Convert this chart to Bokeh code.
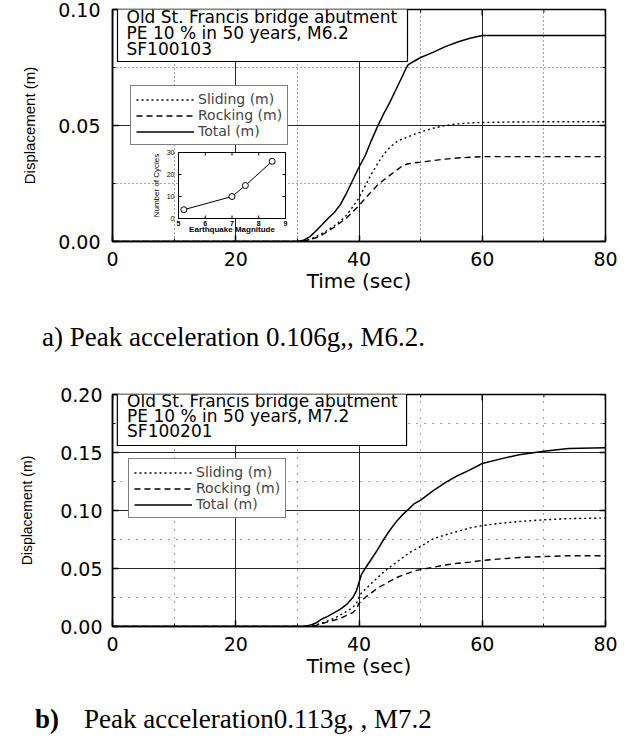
import math
from bokeh.plotting import figure
from bokeh.models import (Range1d, FixedTicker, PrintfTickFormatter, Legend,
                          LegendItem, BoxAnnotation, Label, Div)
from bokeh.layouts import column
from bokeh.embed import file_html
from bokeh.resources import INLINE
from bokeh.core.properties import value

# ---------------- data ----------------
x_major = [0, 20, 40, 60, 80]
x_minor = [10, 30, 50, 70]
y1_major = [0.0, 0.05, 0.10]
y1_minor = [0.025, 0.075]
y2_major = [0.0, 0.05, 0.10, 0.15, 0.20]
y2_minor = [0.025, 0.075, 0.125, 0.175]

# a) M6.2
t1 = [0, 30, 31, 32, 33, 34, 35, 36, 37, 38, 39, 40, 41, 42, 43, 44, 45, 46, 47, 47.7,
      48, 49, 50, 52, 54, 56, 58, 60, 65, 70, 80]
total1 = [0, 0, 0.0006, 0.002, 0.0045, 0.0072, 0.0100, 0.0125, 0.0160, 0.0210, 0.0265, 0.0320,
          0.0370, 0.0435, 0.0495, 0.0550, 0.0600, 0.0655, 0.0710, 0.0750,
          0.0762, 0.0778, 0.0793, 0.0815, 0.0840, 0.0860, 0.0876, 0.0888, 0.0888, 0.0888, 0.0888]
sliding1 = [0, 0, 0.0002, 0.0010, 0.0020, 0.0035, 0.0050, 0.0068, 0.0088, 0.0115, 0.0150, 0.0188,
            0.0240, 0.0290, 0.0335, 0.0375, 0.0405, 0.0428, 0.0442, 0.0448,
            0.0452, 0.0462, 0.0472, 0.0488, 0.0500, 0.0507, 0.0511, 0.0513, 0.0515, 0.0516, 0.0516]
rocking1 = [0, 0, 0.0002, 0.0008, 0.0016, 0.0028, 0.0045, 0.0062, 0.0082, 0.0102, 0.0128, 0.0155,
            0.0185, 0.0215, 0.0243, 0.0265, 0.0285, 0.0305, 0.0325, 0.0333,
            0.0335, 0.0339, 0.0342, 0.0349, 0.0355, 0.0360, 0.0363, 0.0366, 0.0366, 0.0366, 0.0366]

# b) M7.2
t2 = [0, 31, 32, 33, 34, 35, 36, 37, 38, 39, 39.6, 40, 40.4, 41, 42, 43, 44, 45, 46, 47, 48, 49,
      50, 52, 54, 56, 58, 60, 63, 66, 70, 74, 80]
total2 = [0, 0, 0.001, 0.003, 0.0065, 0.009, 0.012, 0.015, 0.019, 0.025, 0.031, 0.038, 0.045,
          0.050, 0.058, 0.066, 0.075, 0.083, 0.090, 0.096, 0.101, 0.106, 0.109, 0.117, 0.124,
          0.130, 0.135, 0.1405, 0.1445, 0.148, 0.151, 0.1535, 0.154]
sliding2 = [0, 0, 0.0005, 0.0015, 0.003, 0.005, 0.007, 0.010, 0.013, 0.0165, 0.020, 0.0255,
            0.029, 0.032, 0.037, 0.042, 0.047, 0.051, 0.055, 0.059, 0.063, 0.066, 0.069, 0.0755,
            0.079, 0.082, 0.085, 0.087, 0.089, 0.0905, 0.092, 0.093, 0.0935]
rocking2 = [0, 0, 0.0004, 0.001, 0.0025, 0.004, 0.0055, 0.007, 0.0095, 0.012, 0.015, 0.020,
            0.022, 0.025, 0.029, 0.033, 0.036, 0.039, 0.042, 0.044, 0.046, 0.048, 0.049, 0.051,
            0.053, 0.0545, 0.0555, 0.057, 0.0583, 0.0595, 0.0603, 0.061, 0.061]

# inset: number of cycles vs magnitude
inset_mag = [5.2, 7.0, 7.5, 8.5]
inset_cycles = [4, 10, 15, 26]
inset_xticks = [5, 6, 7, 8, 9]
inset_yticks = [0, 10, 20, 30]

series_labels = ["Sliding (m)", "Rocking (m)", "Total (m)"]
box1_lines = ["Old St. Francis bridge abutment", "PE 10 % in 50 years, M6.2", "SF100103"]
box2_lines = ["Old St. Francis bridge abutment", "PE 10 % in 50 years, M7.2", "SF100201"]
caption_a = "a) Peak acceleration 0.106g,, M6.2."
caption_b_head = "b)"
caption_b_body = "Peak acceleration0.113g, , M7.2"
x_label = "Time (sec)"
y_label = "Displacement (m)"

# ---------------- styling ----------------
W = 621
TICK_FONT = "DejaVu Sans"
BOX_FONT = "DejaVu Sans"


def make_chart(ymax, ymajor, yminor, fl, fw, ft, fh, fb, minor_dash, ylab_size,
               ylab_standoff, ytick_standoff):
    p = figure(width=W, height=ft + fh + fb, x_range=Range1d(0, 80), y_range=Range1d(0, ymax),
               output_backend="svg", toolbar_location=None,
               min_border_left=fl, min_border_right=W - fl - fw,
               min_border_top=ft, min_border_bottom=fb)
    p.background_fill_color = "white"
    p.border_fill_color = "white"
    p.outline_line_color = "black"
    p.outline_line_width = 1.5

    xt = FixedTicker(ticks=x_major, minor_ticks=x_minor)
    yt = FixedTicker(ticks=ymajor, minor_ticks=yminor)
    bx = p.below[0]
    ly = p.left[0]
    bx.ticker = xt
    ly.ticker = yt
    ly.formatter = PrintfTickFormatter(format="%.2f")

    for ax in (bx, ly):
        ax.axis_line_width = 1.5
        ax.axis_line_color = "black"
        ax.major_tick_in = 6
        ax.major_tick_out = 0
        ax.minor_tick_in = 3
        ax.minor_tick_out = 0
        ax.major_tick_line_width = 1.5
        ax.major_tick_line_color = "black"
        ax.minor_tick_line_color = "black"
        ax.major_label_text_font = TICK_FONT
        ax.major_label_text_font_size = "19px"
        ax.major_label_text_color = "black"
        ax.axis_label_text_font_style = "normal"
        ax.axis_label_text_color = "black"

    bx.major_label_standoff = 10
    ly.major_label_standoff = ytick_standoff
    bx.axis_label = x_label
    bx.axis_label_text_font = TICK_FONT
    bx.axis_label_text_font_size = "20px"
    bx.axis_label_standoff = 0
    ly.axis_label = y_label
    ly.axis_label_text_font = "Liberation Sans"
    ly.axis_label_text_font_size = ylab_size
    ly.axis_label_standoff = ylab_standoff

    p.xgrid.ticker = xt
    p.ygrid.ticker = yt
    p.grid.grid_line_color = "black"
    p.grid.grid_line_width = 1
    p.grid.grid_line_alpha = 0.85
    p.grid.minor_grid_line_color = "#444444"
    p.grid.minor_grid_line_dash = minor_dash
    p.grid.minor_grid_line_width = 1

    # inward ticks on the right and top frame edges
    xppu = fw / 80.0
    yppu = fh / ymax
    p.segment(x0=[80] * len(ymajor), y0=ymajor, x1=[80 - 6 / xppu] * len(ymajor), y1=ymajor,
              line_color="black", line_width=1.5)
    p.segment(x0=[80] * len(yminor), y0=yminor, x1=[80 - 3 / xppu] * len(yminor), y1=yminor,
              line_color="black", line_width=1)
    p.segment(x0=x_major, y0=[ymax] * len(x_major), x1=x_major,
              y1=[ymax - 6 / yppu] * len(x_major), line_color="black", line_width=1.5)
    p.segment(x0=x_minor, y0=[ymax] * len(x_minor), x1=x_minor,
              y1=[ymax - 3 / yppu] * len(x_minor), line_color="black", line_width=1)
    return p


def px_to_data(p_left, p_top, fw, fh, ymax, px, py):
    # page pixel -> data coordinates for a frame whose top-left is (p_left, p_top)
    x = (px - p_left) / fw * 80
    y = (p_top + fh - py) / fh * ymax
    return x, y


def add_curves(p, t, s, r, tot, leg_loc):
    rs = p.line(t, s, line_color="black", line_width=1.4, line_dash="2 3")
    rr = p.line(t, r, line_color="black", line_width=1.4, line_dash="6 4")
    rt = p.line(t, tot, line_color="black", line_width=1.5)
    legend = Legend(items=[LegendItem(label=series_labels[0], renderers=[rs]),
                           LegendItem(label=series_labels[1], renderers=[rr]),
                           LegendItem(label=series_labels[2], renderers=[rt])],
                    location=leg_loc)
    legend.margin = 0
    legend.padding = 5
    legend.spacing = 0
    legend.glyph_width = 58
    legend.glyph_height = 13
    legend.label_height = 13
    legend.label_standoff = 4
    legend.label_text_font = BOX_FONT
    legend.label_text_font_size = "14px"
    legend.label_text_line_height = 0.9
    legend.border_line_color = "black"
    legend.border_line_width = 1.2
    legend.background_fill_color = "white"
    legend.background_fill_alpha = 1
    p.add_layout(legend)


def add_box(p, geom, lines, box_px, text_x, text_ys, font_size):
    l, t_, r_, b_ = box_px
    x0, y0 = px_to_data(*geom, l, b_)
    x1, y1 = px_to_data(*geom, r_, t_)
    p.add_layout(BoxAnnotation(left=x0, right=x1, bottom=y0, top=y1, fill_color="white",
                               fill_alpha=1, line_color="black", line_width=1.2,
                               line_alpha=1))
    for txt, ty in zip(lines, text_ys):
        lx, ly = px_to_data(*geom, text_x, ty)
        p.add_layout(Label(x=lx, y=ly, text=txt, text_font=BOX_FONT, text_font_size=font_size,
                           text_baseline="middle", text_align="left", text_color="black"))


# ---------------- chart a ----------------
# page geometry (page pixels incl. 8px body margin)
A_LEFT, A_TOP, A_FW, A_FH = 120, 17, 493, 232
p1 = make_chart(0.10, y1_major, y1_minor, A_LEFT - 8, A_FW, A_TOP - 8, A_FH, 60, "1 3",
                "15px", 17, 12)
geom_a = (A_LEFT, A_TOP, A_FW, A_FH, 0.10)
add_box(p1, geom_a, box1_lines, (125, 10, 415, 69), 134, [24, 40, 56], "17px")
add_curves(p1, t1, sliding1, rocking1, total1, (18, 96))

# inset drawn with its own scales inside the frame
I_X0, I_X1, I_Y0, I_Y1 = 186, 293, 226, 160   # page px of x=5, x=9, y=0, y=30
ix_ppu = (I_X1 - I_X0) / (inset_xticks[-1] - inset_xticks[0])
iy_ppu = (I_Y0 - I_Y1) / (inset_yticks[-1] - inset_yticks[0])
ix_start = inset_xticks[0] - (I_X0 - A_LEFT) / ix_ppu
ix_end = inset_xticks[-1] + (A_LEFT + A_FW - I_X1) / ix_ppu
iy_start = inset_yticks[0] - (A_TOP + A_FH - I_Y0) / iy_ppu
iy_end = inset_yticks[-1] + (I_Y1 - A_TOP) / iy_ppu
p1.extra_x_ranges = {"ix": Range1d(ix_start, ix_end)}
p1.extra_y_ranges = {"iy": Range1d(iy_start, iy_end)}
kw = dict(x_range_name="ix", y_range_name="iy")
p1.quad(left=inset_xticks[0], right=inset_xticks[-1], bottom=inset_yticks[0],
        top=inset_yticks[-1], fill_color="white", line_color="black", line_width=1, **kw)
tx = 3 / iy_ppu
ty = 3 / ix_ppu
p1.segment(x0=inset_xticks, y0=[inset_yticks[0]] * 5, x1=inset_xticks,
           y1=[inset_yticks[0] + tx] * 5, line_color="black", line_width=1, **kw)
p1.segment(x0=inset_xticks, y0=[inset_yticks[-1]] * 5, x1=inset_xticks,
           y1=[inset_yticks[-1] - tx] * 5, line_color="black", line_width=1, **kw)
p1.segment(x0=[inset_xticks[0]] * 4, y0=inset_yticks, x1=[inset_xticks[0] + ty] * 4,
           y1=inset_yticks, line_color="black", line_width=1, **kw)
p1.segment(x0=[inset_xticks[-1]] * 4, y0=inset_yticks, x1=[inset_xticks[-1] - ty] * 4,
           y1=inset_yticks, line_color="black", line_width=1, **kw)
p1.line(inset_mag, inset_cycles, line_color="black", line_width=1, **kw)
p1.scatter(inset_mag, inset_cycles, size=6, marker="circle", fill_color="white",
           line_color="black", line_width=1, **kw)
p1.text(x=[inset_xticks[0] - 4 / ix_ppu] * 4, y=inset_yticks, text=[str(v) for v in inset_yticks],
        text_font=value("Liberation Sans"), text_font_size=value("7px"), text_align="right",
        text_baseline="middle", text_color="black", **kw)
p1.text(x=inset_xticks, y=[inset_yticks[0] - 2 / iy_ppu] * 5, text=[str(v) for v in inset_xticks],
        text_font=value("Liberation Sans"), text_font_size=value("7px"), text_align="center",
        text_baseline="top", text_color="black", text_font_style="bold", **kw)
p1.text(x=[7], y=[inset_yticks[0] - 11 / iy_ppu], text=["Earthquake Magnitude"],
        text_font=value("Liberation Sans"), text_font_size=value("8px"), text_align="center",
        text_baseline="middle", text_color="black", text_font_style="bold", **kw)
p1.text(x=[inset_xticks[0] - 22 / ix_ppu], y=[15], text=["Number of Cycles"],
        text_font=value("Liberation Sans"), text_font_size=value("8px"), text_align="center",
        text_baseline="middle", text_color="black", angle=math.pi / 2, **kw)

# ---------------- caption a ----------------
div_a = Div(text=('<div style="font-family:\'Liberation Serif\';font-size:27px;line-height:27px;'
                  'padding:18px 0 0 37px;margin:0;white-space:nowrap;color:black;">'
                  + caption_a + '</div>'), width=W, height=63)

# ---------------- chart b ----------------
B_LEFT, B_TOP, B_FW, B_FH = 107, 392, 508, 232
B_FIG_TOP = 8 + 301 + 63
p2 = make_chart(0.20, y2_major, y2_minor, B_LEFT - 8, B_FW, B_TOP - B_FIG_TOP, B_FH, 60, "1 7",
                "14px", 22, 10)
geom_b = (B_LEFT, B_TOP, B_FW, B_FH, 0.20)
add_box(p2, geom_b, box2_lines, (112, 385, 410, 443), 122, [398, 413, 428], "17px")
add_curves(p2, t2, sliding2, rocking2, total2, (16, 108))

div_b = Div(text=('<div style="font-family:\'Liberation Serif\';font-size:27px;line-height:27px;'
                  'padding:15px 0 0 30px;margin:0;white-space:nowrap;color:black;">'
                  '<b>' + caption_b_head + '</b><span style="margin-left:25px">'
                  + caption_b_body + '</span></div>'), width=W, height=44)

layout = column(p1, div_a, p2, div_b, spacing=0)
open("out.html", "w").write(file_html(layout, INLINE))
